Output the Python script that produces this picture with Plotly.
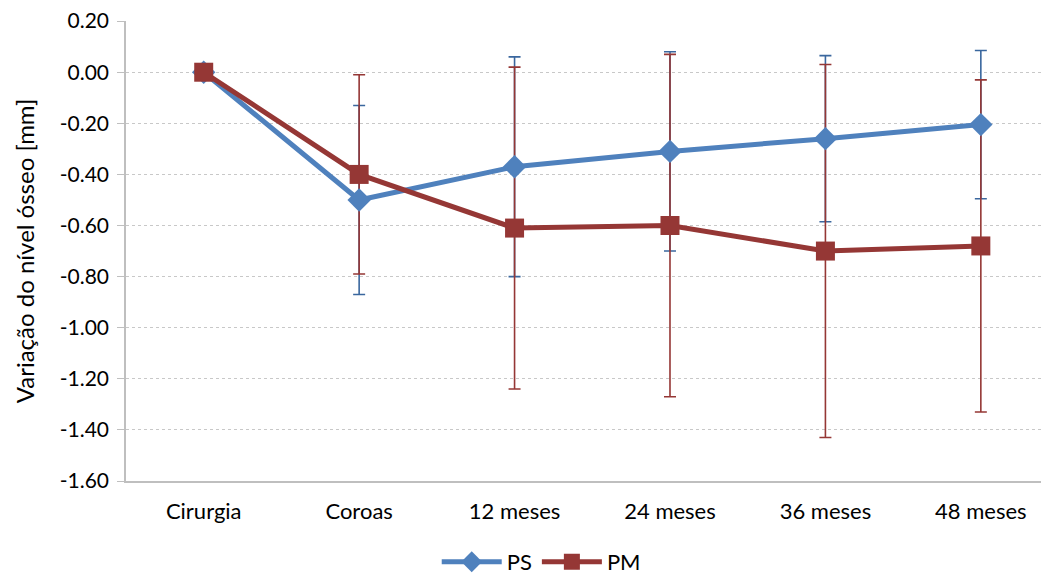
import plotly.graph_objects as go

categories = ["Cirurgia", "Coroas", "12 meses", "24 meses", "36 meses", "48 meses"]
ps_values = [0.0, -0.50, -0.37, -0.31, -0.26, -0.205]
ps_err = [0.0, 0.37, 0.43, 0.39, 0.325, 0.29]
pm_values = [0.0, -0.40, -0.61, -0.60, -0.70, -0.68]
pm_err = [0.0, 0.39, 0.63, 0.67, 0.73, 0.65]
y_ticks = [0.2, 0.0, -0.2, -0.4, -0.6, -0.8, -1.0, -1.2, -1.4, -1.6]

BLUE = "#4F81BD"
BLUE_ERR = "#3A679E"
RED = "#953735"

x_idx = list(range(len(categories)))

fig = go.Figure()
fig.add_trace(go.Scatter(
    x=x_idx, y=ps_values, mode="markers", marker=dict(size=1, opacity=0),
    error_y=dict(type="data", array=ps_err, visible=True, color=BLUE_ERR, thickness=1.6, width=6),
    showlegend=False, hoverinfo="skip"))
fig.add_trace(go.Scatter(
    x=x_idx, y=pm_values, mode="markers", marker=dict(size=1, opacity=0),
    error_y=dict(type="data", array=pm_err, visible=True, color=RED, thickness=1.6, width=6),
    showlegend=False, hoverinfo="skip"))
fig.add_trace(go.Scatter(
    x=x_idx, y=ps_values, mode="lines+markers", name="PS",
    line=dict(color=BLUE, width=5),
    marker=dict(symbol="diamond", size=18, color=BLUE)))
fig.add_trace(go.Scatter(
    x=x_idx, y=pm_values, mode="lines+markers", name="PM",
    line=dict(color=RED, width=5),
    marker=dict(symbol="square", size=19, color=RED)))

font_family = "Lato, 'Open Sans', sans-serif"
fig.update_layout(
    width=1049, height=575,
    margin=dict(l=118, r=0, t=13, b=102),
    paper_bgcolor="white", plot_bgcolor="white",
    font=dict(family=font_family, size=22, color="black"),
    xaxis=dict(
        tickmode="array", tickvals=x_idx, ticktext=categories,
        range=[-0.5, 5.49], showgrid=False, zeroline=False,
        showline=True, linecolor="#BFBFBF", linewidth=1.5,
        ticks="", tickfont=dict(size=22), ticklabelstandoff=10,
        automargin=False,
    ),
    yaxis=dict(
        range=[-1.6, 0.2005], tickvals=y_ticks,
        ticktext=[f"{v:.2f}" for v in y_ticks],
        showgrid=True, gridcolor="#C8C8C8", griddash="dot", gridwidth=1,
        zeroline=False, showline=True, linecolor="#BFBFBF", linewidth=1.5,
        ticks="outside", ticklen=7, tickcolor="#BFBFBF",
        tickfont=dict(size=21), ticklabelstandoff=4, ticklabeloverflow="allow",
        title=dict(text="Variação do nível ósseo [mm]", font=dict(size=24), standoff=18),
        automargin=False,
    ),
    legend=dict(orientation="h", x=0.446, xanchor="center", y=-0.176, yanchor="middle",
                font=dict(size=22), itemwidth=60),
    showlegend=True,
)

fig.write_html("out.html")
